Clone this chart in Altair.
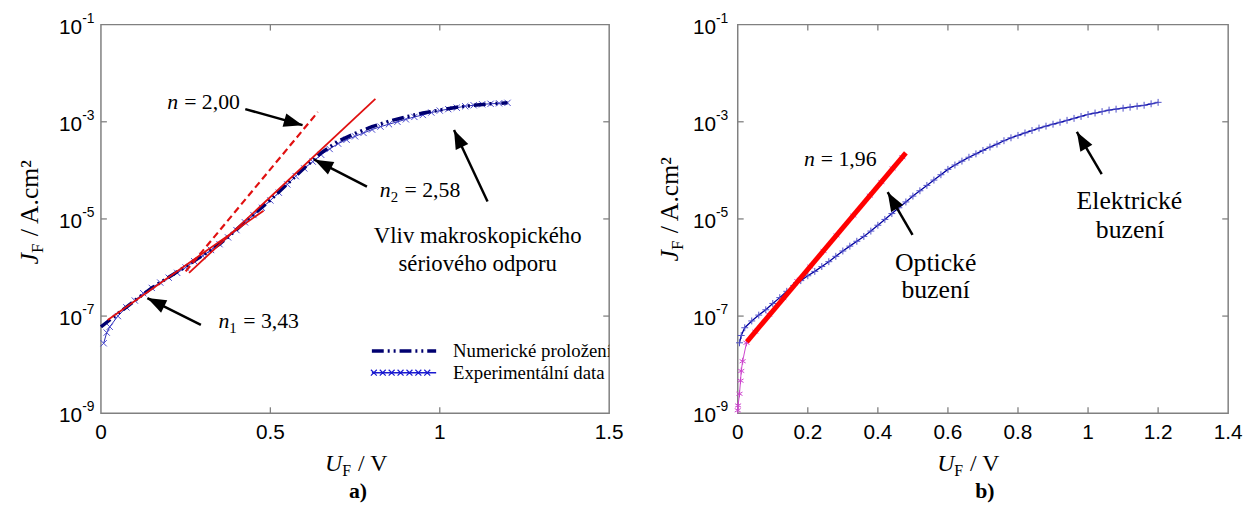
import math
import altair as alt
import pandas as pd

SERIF = "Liberation Serif"
SANS = "Liberation Sans"
GRAY = "#808080"

# ---------------- panel a) data (log10 of J in A/cm2) ----------------
a_exp_u = [0.008, 0.017, 0.026, 0.05, 0.075, 0.10, 0.125, 0.15, 0.175, 0.20, 0.225, 0.25, 0.275, 0.30,
           0.325, 0.35, 0.375, 0.40, 0.425, 0.45, 0.475, 0.50, 0.525, 0.55, 0.575, 0.60, 0.625, 0.65,
           0.675, 0.70, 0.725, 0.75, 0.775, 0.80, 0.825, 0.85, 0.875, 0.90, 0.925, 0.95, 0.975, 1.00,
           1.025, 1.05, 1.075, 1.10, 1.125, 1.15, 1.175, 1.20]
a_exp_logj = [-7.56, -7.34, -7.22, -7.00, -6.82, -6.68, -6.53, -6.42, -6.31, -6.21, -6.11, -6.00, -5.87, -5.76,
              -5.64, -5.52, -5.38, -5.23, -5.07, -4.92, -4.77, -4.62, -4.46, -4.29, -4.12, -3.96, -3.82, -3.68,
              -3.56, -3.45, -3.37, -3.30, -3.23, -3.16, -3.10, -3.05, -3.00, -2.95, -2.90, -2.86, -2.81, -2.77,
              -2.74, -2.71, -2.68, -2.66, -2.64, -2.63, -2.62, -2.61]
a_fit_u = [0.0, 0.05, 0.10, 0.15, 0.20, 0.25, 0.30, 0.35, 0.40, 0.45, 0.50, 0.55, 0.60, 0.65, 0.70, 0.75,
           0.80, 0.85, 0.90, 0.95, 1.00, 1.05, 1.10, 1.15, 1.20]
a_fit_logj = [-7.22, -6.95, -6.68, -6.42, -6.20, -5.98, -5.75, -5.52, -5.22, -4.91, -4.61, -4.28, -3.95,
              -3.64, -3.40, -3.24, -3.10, -2.99, -2.90, -2.82, -2.76, -2.70, -2.66, -2.63, -2.61]
a_n1_u, a_n1_logj = [0.02, 0.48], [-7.08, -4.83]
a_n2_u, a_n2_logj = [0.26, 0.81], [-6.11, -2.53]
a_n200_u, a_n200_logj = [0.25, 0.64], [-6.08, -2.80]

a_xticks = [0, 0.5, 1, 1.5]
a_xlabels = ["0", "0.5", "1", "1.5"]
a_inner_x = [0.5, 1.0]

# annotations a)
a_n_u = [0.228, 0.855, 0.379]
a_n_logj = [-2.60, -4.40, -7.10]
a_n_sub = ["", "2", "1"]
a_n_rest = ["= 2,00", "= 2,58", "= 3,43"]
a_txt = ["Vliv makroskopického", "sériového odporu"]
a_txt_u = [1.112, 1.112]
a_txt_logj = [-5.36, -5.93]
a_arr_su = [0.426, 0.785, 0.295, 1.141]
a_arr_sl = [-2.74, -4.335, -7.18, -4.64]
a_arr_tu = [0.595, 0.630, 0.137, 1.042]
a_arr_tl = [-3.07, -3.78, -6.63, -3.17]
a_legend = ["Numerické proložení", "Experimentální data"]

# ---------------- panel b) data ----------------
b_el_u = [0.005, 0.01, 0.02, 0.04, 0.06, 0.08, 0.10, 0.12, 0.14, 0.16, 0.18, 0.20, 0.22, 0.24, 0.26, 0.28,
          0.30, 0.32, 0.34, 0.36, 0.38, 0.40, 0.42, 0.44, 0.46, 0.48, 0.50, 0.52, 0.54, 0.56, 0.58, 0.60,
          0.62, 0.64, 0.66, 0.68, 0.70, 0.72, 0.74, 0.76, 0.78, 0.80, 0.82, 0.84, 0.86, 0.88, 0.90, 0.92,
          0.94, 0.96, 0.98, 1.00, 1.02, 1.04, 1.06, 1.08, 1.10, 1.12, 1.14, 1.16, 1.18, 1.20]
b_el_logj = [-7.55, -7.40, -7.24, -7.10, -6.98, -6.87, -6.74, -6.62, -6.49, -6.37, -6.27, -6.17, -6.08,
             -5.98, -5.88, -5.77, -5.66, -5.56, -5.46, -5.36, -5.25, -5.13, -5.01, -4.89, -4.77, -4.65,
             -4.53, -4.42, -4.31, -4.20, -4.09, -3.98, -3.89, -3.81, -3.73, -3.66, -3.59, -3.52, -3.46,
             -3.39, -3.33, -3.28, -3.23, -3.18, -3.13, -3.09, -3.05, -3.01, -2.97, -2.93, -2.89, -2.85,
             -2.82, -2.79, -2.76, -2.74, -2.72, -2.70, -2.68, -2.66, -2.63, -2.60]
b_opt_u = [0.0, 0.001, 0.005, 0.008, 0.010, 0.014, 0.025, 0.05, 0.09, 0.13, 0.17, 0.207, 0.245, 0.282,
           0.33, 0.377, 0.41, 0.442, 0.47]
b_opt_logj = [-8.94, -8.84, -8.60, -8.33, -8.13, -7.93, -7.55, -7.32, -6.97, -6.63, -6.28, -5.98, -5.66,
              -5.34, -4.93, -4.52, -4.24, -3.96, -3.73]
b_fit_u, b_fit_logj = [0.026, 0.48], [-7.53, -3.64]

b_xticks = [0, 0.2, 0.4, 0.6, 0.8, 1.0, 1.2, 1.4]
b_xlabels = ["0", "0.2", "0.4", "0.6", "0.8", "1", "1.2", "1.4"]
b_inner_x = [0.2, 0.4, 0.6, 0.8, 1.0, 1.2]

b_n_u = [0.220]
b_n_logj = [-3.775]
b_n_sub = [""]
b_n_rest = ["= 1,96"]
b_txt = ["Optické", "buzení", "Elektrické", "buzení"]
b_txt_u = [0.565, 0.565, 1.118, 1.12]
b_txt_logj = [-5.90, -6.47, -4.63, -5.23]
b_arr_su = [0.499, 1.039]
b_arr_sl = [-5.33, -4.08]
b_arr_tu = [0.428, 0.968]
b_arr_tl = [-4.45, -3.21]

# shared y ticks
ytick_vals = [1e-1, 1e-3, 1e-5, 1e-7, 1e-9]
ytick_exp = ["-1", "-3", "-5", "-7", "-9"]
inner_y = [1e-3, 1e-5, 1e-7]

XS = "M-1,-1L1,1M-1,1L1,-1"
PLUS = "M0,-1L0,1M-1,0L1,0"
STAR = "M0,-1L0,1M-0.87,-0.5L0.87,0.5M-0.87,0.5L0.87,-0.5"
HEAD = "M0,0L-7,19L7,19Z"

YE = alt.Y("j:Q", scale=alt.Scale(type="log", domain=[1e-9, 1e-1], nice=False), axis=None)


def xenc(umax):
    return alt.X("u:Q", scale=alt.Scale(domain=[0, umax], nice=False, zero=False), axis=None)


def ldf(u, logj):
    return pd.DataFrame({"u": u, "j": [10.0 ** v for v in logj]})


ONE = pd.DataFrame({"k": [0]})


def frame(W, H, XE, xt_vals, xt_labels, inner_x, ylab_right):
    t = 6
    dx = pd.DataFrame({"u": inner_x})
    dy = pd.DataFrame({"j": inner_y})
    tick = dict(color=GRAY, strokeWidth=1.3)
    lay = [
        alt.Chart(dx).mark_rule(**tick).encode(x=XE, y=alt.value(H), y2=alt.value(H - t)),
        alt.Chart(dx).mark_rule(**tick).encode(x=XE, y=alt.value(0), y2=alt.value(t)),
        alt.Chart(dy).mark_rule(**tick).encode(y=YE, x=alt.value(0), x2=alt.value(t)),
        alt.Chart(dy).mark_rule(**tick).encode(y=YE, x=alt.value(W), x2=alt.value(W - t)),
    ]
    xl = pd.DataFrame({"u": xt_vals, "lab": xt_labels})
    lay.append(alt.Chart(xl).mark_text(font=SANS, fontSize=21, align="center", baseline="middle")
               .encode(x=XE, y=alt.value(H + 20), text="lab:N"))
    yl = pd.DataFrame({"j": ytick_vals, "e": ytick_exp})
    lay.append(alt.Chart(yl).mark_text(font=SANS, fontSize=21, align="right", baseline="middle", dy=3)
               .encode(x=alt.value(ylab_right), y=YE, text=alt.value("10")))
    lay.append(alt.Chart(yl).mark_text(font=SANS, fontSize=14, align="left", baseline="middle", dy=-6)
               .encode(x=alt.value(ylab_right), y=YE, text="e:N"))
    return lay


def ytitle(x, y):
    b = alt.Chart(ONE)
    return [
        b.mark_text(font=SERIF, fontSize=26, fontStyle="italic", angle=270, align="right", baseline="alphabetic")
        .encode(x=alt.value(x), y=alt.value(y), text=alt.value("J")),
        b.mark_text(font=SERIF, fontSize=17, angle=270, align="left", baseline="alphabetic", dy=5)
        .encode(x=alt.value(x), y=alt.value(y), text=alt.value("F")),
        b.mark_text(font=SERIF, fontSize=26, angle=270, align="left", baseline="alphabetic", dx=17)
        .encode(x=alt.value(x), y=alt.value(y), text=alt.value("/ A.cm²")),
    ]


def xtitle(x, y, tag, tx, ty):
    b = alt.Chart(ONE)
    return [
        b.mark_text(font=SERIF, fontSize=24, fontStyle="italic", align="right", baseline="alphabetic")
        .encode(x=alt.value(x), y=alt.value(y), text=alt.value("U")),
        b.mark_text(font=SERIF, fontSize=16, align="left", baseline="alphabetic", dy=5)
        .encode(x=alt.value(x), y=alt.value(y), text=alt.value("F")),
        b.mark_text(font=SERIF, fontSize=24, align="left", baseline="alphabetic", dx=16)
        .encode(x=alt.value(x), y=alt.value(y), text=alt.value("/ V")),
        b.mark_text(font=SERIF, fontSize=22, fontWeight="bold", align="center", baseline="alphabetic")
        .encode(x=alt.value(tx), y=alt.value(ty), text=alt.value(tag)),
    ]


def nlabels(XE, u, logj, subs, rests, size=22):
    df = pd.DataFrame({"u": u, "j": [10.0 ** v for v in logj], "sub": subs, "rest": rests})
    has = df[df["sub"] != ""]
    no = df[df["sub"] == ""]
    lay = [alt.Chart(df).mark_text(font=SERIF, fontSize=size, fontStyle="italic", align="right", baseline="middle")
           .encode(x=XE, y=YE, text=alt.value("n"))]
    if len(has):
        lay.append(alt.Chart(has).mark_text(font=SERIF, fontSize=15, align="left", baseline="middle", dy=7)
                   .encode(x=XE, y=YE, text="sub:N"))
        lay.append(alt.Chart(has).mark_text(font=SERIF, fontSize=size, align="left", baseline="middle", dx=14)
                   .encode(x=XE, y=YE, text="rest:N"))
    if len(no):
        lay.append(alt.Chart(no).mark_text(font=SERIF, fontSize=size, align="left", baseline="middle", dx=6)
                   .encode(x=XE, y=YE, text="rest:N"))
    return lay


def arrows(XE, umax, W, H, su, sl, tu, tl):
    angs = []
    for a, b, c, d in zip(su, sl, tu, tl):
        x0, x1 = a / umax * W, c / umax * W
        y0, y1 = H * (-1 - b) / 8, H * (-1 - d) / 8
        angs.append(math.degrees(math.atan2(x1 - x0, -(y1 - y0))) % 360)
    df = pd.DataFrame({"u": su, "j": [10.0 ** v for v in sl], "u2": tu, "j2": [10.0 ** v for v in tl]})
    hd = pd.DataFrame({"u": tu, "j": [10.0 ** v for v in tl], "ang": angs})
    return [
        alt.Chart(df).mark_rule(color="black", strokeWidth=2.5).encode(x=XE, y=YE, x2="u2:Q", y2="j2:Q"),
        alt.Chart(hd).mark_point(shape=HEAD, size=4, filled=True, color="black", opacity=1, strokeWidth=0)
        .encode(x=XE, y=YE, angle=alt.Angle("ang:Q", scale=None)),
    ]


def centered(XE, texts, u, logj, size):
    df = pd.DataFrame({"u": u, "j": [10.0 ** v for v in logj], "t": texts})
    return [alt.Chart(df).mark_text(font=SERIF, fontSize=size, align="center", baseline="middle")
            .encode(x=XE, y=YE, text="t:N")]


# ---------------- panel a) ----------------
WA, HA, UA = 514, 393, 1.5
XA = xenc(UA)
la = frame(WA, HA, XA, a_xticks, a_xlabels, a_inner_x, -19)
exp_a = ldf(a_exp_u, a_exp_logj)
la.append(alt.Chart(exp_a).mark_line(color="#2a2ab8", strokeWidth=1).encode(x=XA, y=YE))
la.append(alt.Chart(exp_a).mark_point(shape=XS, size=40, filled=False, color="#4848cc", strokeWidth=1, opacity=1)
          .encode(x=XA, y=YE))
la.append(alt.Chart(ldf(a_fit_u, a_fit_logj)).mark_line(color="#000070", strokeWidth=3.5,
                                                        strokeDash=[12, 4, 2, 4, 2, 4]).encode(x=XA, y=YE))
la.append(alt.Chart(ldf(a_n1_u, a_n1_logj)).mark_line(color="#e01010", strokeWidth=1.8).encode(x=XA, y=YE))
la.append(alt.Chart(ldf(a_n2_u, a_n2_logj)).mark_line(color="#e01010", strokeWidth=1.8).encode(x=XA, y=YE))
la.append(alt.Chart(ldf(a_n200_u, a_n200_logj)).mark_line(color="#e01010", strokeWidth=2.2, strokeDash=[7, 4])
          .encode(x=XA, y=YE))
la += arrows(XA, UA, WA, HA, a_arr_su, a_arr_sl, a_arr_tu, a_arr_tl)
la += nlabels(XA, a_n_u, a_n_logj, a_n_sub, a_n_rest)
la += centered(XA, a_txt, a_txt_u, a_txt_logj, 23)
# legend
LEGX = "".join(f"M{c - 3},-3L{c + 3},3M{c - 3},3L{c + 3},-3" for c in [-26, -17, -8, 1, 10, 19, 28])
b1 = alt.Chart(ONE)
la.append(b1.mark_rule(color="#000070", strokeWidth=3.5, strokeDash=[12, 4, 2, 4, 2, 4])
          .encode(x=alt.value(274), x2=alt.value(339), y=alt.value(330)))
la.append(b1.mark_rule(color="#1a1ad0", strokeWidth=1.5).encode(x=alt.value(274), x2=alt.value(339), y=alt.value(352)))
la.append(b1.mark_point(shape=LEGX, size=4, filled=False, color="#1a1ad0", strokeWidth=1.2, opacity=1)
          .encode(x=alt.value(302), y=alt.value(352)))
la.append(b1.mark_text(font=SERIF, fontSize=19, align="left", baseline="middle", clip=True)
          .encode(x=alt.value(356), y=alt.value(330), text=alt.value(a_legend[0])))
la.append(b1.mark_text(font=SERIF, fontSize=19, align="left", baseline="middle", clip=True)
          .encode(x=alt.value(356), y=alt.value(352), text=alt.value(a_legend[1])))
la += ytitle(-64, 231)
la += xtitle(244, HA + 58, "a)", 260, HA + 86)

left = alt.layer(*la).properties(width=WA, height=HA)

# ---------------- panel b) ----------------
WB, HB, UB = 496, 393, 1.4
XB = xenc(UB)
lb = frame(WB, HB, XB, b_xticks, b_xlabels, b_inner_x, -22)
el = ldf(b_el_u, b_el_logj)
opt = ldf(b_opt_u, b_opt_logj)
lb.append(alt.Chart(opt).mark_line(color="#cc44cc", strokeWidth=1).encode(x=XB, y=YE))
lb.append(alt.Chart(opt).mark_point(shape=STAR, size=49, filled=False, color="#cc44cc", strokeWidth=1, opacity=1)
          .encode(x=XB, y=YE))
lb.append(alt.Chart(el).mark_line(color="#0000a0", strokeWidth=1.3).encode(x=XB, y=YE))
lb.append(alt.Chart(el).mark_point(shape=PLUS, size=49, filled=False, color="#5050c8", strokeWidth=1, opacity=1)
          .encode(x=XB, y=YE))
lb.append(alt.Chart(ldf(b_fit_u, b_fit_logj)).mark_line(color="#ff0000", strokeWidth=5).encode(x=XB, y=YE))
lb += arrows(XB, UB, WB, HB, b_arr_su, b_arr_sl, b_arr_tu, b_arr_tl)
lb += nlabels(XB, b_n_u, b_n_logj, b_n_sub, b_n_rest)
lb += centered(XB, b_txt, b_txt_u, b_txt_logj, 26)
lb += ytitle(-60, 228)
lb += xtitle(219, HB + 58, "b)", 250, HB + 86)

right = alt.layer(*lb).properties(width=WB, height=HB)

chart = (
    alt.hconcat(left, right, spacing=32)
    .properties(padding={"left": 8, "top": 0, "right": 0, "bottom": 0}, background="white")
    .configure_view(stroke=GRAY, strokeWidth=1.5)
)

chart.save("out.html", embed_options={"renderer": "svg", "actions": False})
